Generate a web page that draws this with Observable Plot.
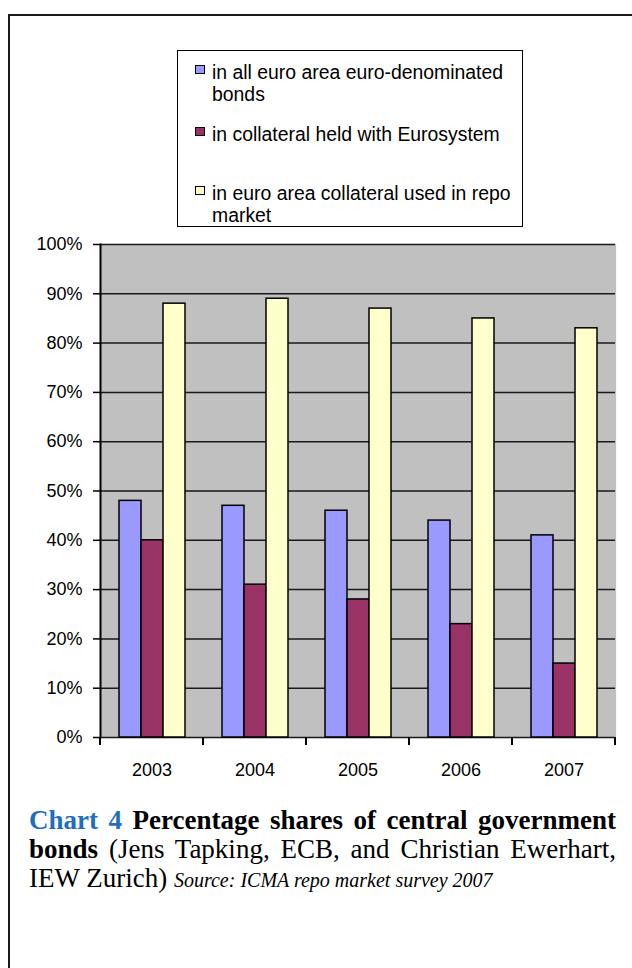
<!DOCTYPE html>
<html>
<head>
<meta charset="utf-8">
<script src="https://cdn.jsdelivr.net/npm/d3@7"></script>
<script src="https://cdn.jsdelivr.net/npm/@observablehq/plot@0.6"></script>
<style>
  html, body { margin: 0; padding: 0; background: #fff; }
  body { width: 632px; height: 968px; position: relative; overflow: hidden; }
  #frame { position: absolute; left: 8px; top: 14px; width: 700px; height: 1000px;
           border-left: 2px solid #1a1a1a; border-top: 2px solid #1a1a1a; }
  #legend { position: absolute; left: 177px; top: 50px; width: 344px; height: 175px;
            border: 1.5px solid #000; background: #fff;
            font-family: "Liberation Sans", Arial, sans-serif; font-size: 19.4px; color: #000; }
  .entry { position: absolute; left: 34px; line-height: 22px; white-space: nowrap; }
  .sw { position: absolute; left: -17px; top: 4px; width: 8px; height: 7px; border: 1px solid #000; }
  #chart { position: absolute; left: 0; top: 230px; }
  #caption { position: absolute; left: 29px; top: 806px; width: 587px;
             font-family: "Liberation Serif", "Times New Roman", serif; font-size: 27px;
             line-height: 29px; text-align: justify; text-align-last: left; color: #000; }
  #caption .blue { color: #1f6fbf; font-weight: bold; }
  #caption b { font-weight: bold; }
  #caption i { font-size: 20px; }
</style>
</head>
<body>
<div id="frame"></div>
<div id="legend"></div>
<div id="chart"></div>
<div id="caption"><span class="blue">Chart 4</span> <b>Percentage shares of central government bonds</b> (Jens Tapking, ECB, and Christian Ewerhart, IEW Zurich) <i>Source: ICMA repo market survey 2007</i></div>
<script>
const years = ["2003", "2004", "2005", "2006", "2007"];
const seriesNames = [
  "in all euro area euro-denominated bonds",
  "in collateral held with Eurosystem",
  "in euro area collateral used in repo market"
];
const legendLines = [
  ["in all euro area euro-denominated", "bonds"],
  ["in collateral held with Eurosystem"],
  ["in euro area collateral used in repo", "market"]
];
const allBonds   = [48, 47, 46, 44, 41];
const eurosystem = [40, 31, 28, 23, 15];
const repoMarket = [88, 89, 87, 85, 83];
const yTicks = [0, 10, 20, 30, 40, 50, 60, 70, 80, 90, 100];
const colors = ["#9999FF", "#993366", "#FFFFCC"];

const seriesValues = [allBonds, eurosystem, repoMarket];
const data = years.flatMap((yr, i) =>
  seriesNames.map((s, k) => ({ year: yr, series: s, value: seriesValues[k][i] })));

// Legend (HTML, above the SVG)
const legend = document.getElementById("legend");
const entryTops = [10, 72, 131];
legendLines.forEach((lines, k) => {
  const e = document.createElement("div");
  e.className = "entry";
  e.style.top = entryTops[k] + "px";
  e.innerHTML = lines.join("<br>");
  const sw = document.createElement("div");
  sw.className = "sw";
  sw.style.background = colors[k];
  e.appendChild(sw);
  legend.appendChild(e);
});

const plot = Plot.plot({
  width: 632,
  height: 570,
  marginTop: 14,
  marginBottom: 63,
  marginLeft: 100,
  marginRight: 17,
  style: { fontFamily: "'Liberation Sans', Arial, sans-serif", fontSize: "18px", color: "#000", background: "transparent", overflow: "visible" },
  fx: { domain: years, padding: 0, label: null },
  x: { domain: seriesNames, paddingInner: 0, paddingOuter: 0.75, axis: null },
  y: { domain: [0, 100], label: null },
  color: { domain: seriesNames, range: colors },
  marks: [
    Plot.frame({ fill: "#c0c0c0", stroke: "#c0c0c0", strokeWidth: 1.2 }),
    Plot.ruleY(yTicks, { stroke: "#1a1a1a", strokeWidth: 1.5 }),
    Plot.barY(data, { fx: "year", x: "series", y: "value", fill: "series", stroke: "#000", strokeWidth: 1.5 }),
    Plot.frame({ anchor: "left", facetAnchor: "left", stroke: "#000", strokeWidth: 2 }),
    Plot.axisY({ ticks: yTicks, tickFormat: d => d + "%", tickSize: 7, tickPadding: 11, stroke: "#000", strokeWidth: 1.5, label: null }),
    Plot.axisFx({ anchor: "bottom", tickSize: 0, tickPadding: 26, label: null })
  ]
});

// Category boundary tick marks below the axis, placed with Plot's own scales
const fx = plot.scale("fx");
const ys = plot.scale("y");
const bounds = years.map(yv => fx.apply(yv)).concat([fx.apply(years[years.length - 1]) + fx.bandwidth]);
const y0 = ys.apply(0);
d3.select(plot).append("g")
  .attr("stroke", "#000").attr("stroke-width", 2)
  .selectAll("line").data(bounds).join("line")
  .attr("x1", d => d).attr("x2", d => d)
  .attr("y1", y0).attr("y2", y0 + 8);

document.getElementById("chart").appendChild(plot);
</script>
</body>
</html>
